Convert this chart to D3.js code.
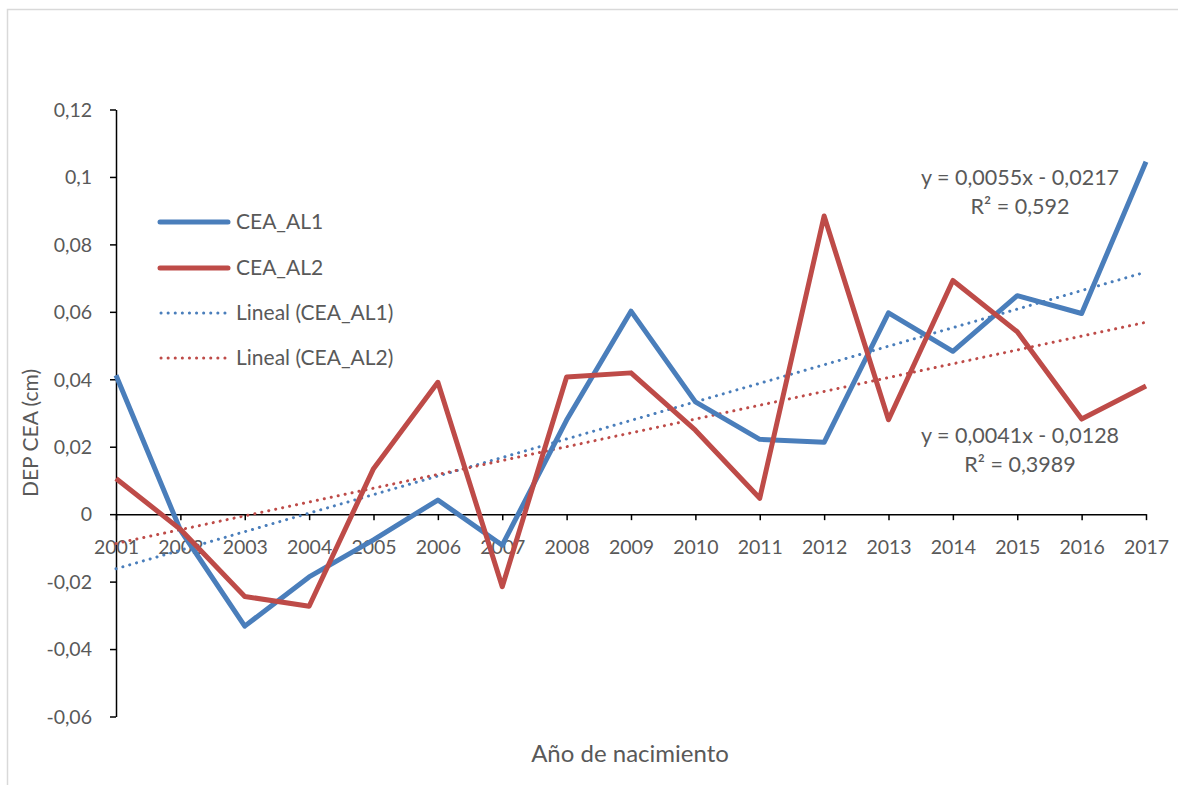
<!DOCTYPE html>
<html>
<head>
<meta charset="utf-8">
<script src="https://cdn.jsdelivr.net/npm/d3@7"></script>
<style>
  body { margin: 0; background: #fff; }
  text { font-family: Lato, "Open Sans", sans-serif; fill: #595959; }
</style>
</head>
<body>
<svg width="1178" height="785"></svg>
<script>
// data
let years = ["2001","2002","2003","2004","2005","2006","2007","2008","2009",
  "2010","2011","2012","2013","2014","2015","2016","2017"];
let cea1 = [0.0412, -0.0047, -0.0332, -0.0186, -0.0076, 0.0042, -0.0092, 0.0279, 0.0602,
  0.0333, 0.0222, 0.0213, 0.0597, 0.0483, 0.0648, 0.0595, 0.1045];
let cea2 = [0.0106, -0.0045, -0.0244, -0.0273, 0.0135, 0.0391, -0.0215, 0.0407, 0.0419,
  0.0249, 0.0047, 0.0884, 0.0280, 0.0693, 0.0541, 0.0282, 0.0380];
let seriesNames = ["CEA_AL1", "CEA_AL2"];
let trendNames = ["Lineal (CEA_AL1)", "Lineal (CEA_AL2)"];
let slopes = [0.0055, 0.0041];
let intercepts = [-0.0217, -0.0128];
let eqLabels = [["y = 0,0055x - 0,0217", "R² = 0,592"], ["y = 0,0041x - 0,0128", "R² = 0,3989"]];
let yTicks = [-0.06, -0.04, -0.02, 0, 0.02, 0.04, 0.06, 0.08, 0.1, 0.12];

let colors = ["#4a7ebb", "#be4b48"];
let svg = d3.select("svg");

// outer chart border
svg.append("rect")
  .attr("x", 7.5).attr("y", 9.5)
  .attr("width", 1200).attr("height", 800)
  .attr("fill", "none").attr("stroke", "#d9d9d9").attr("stroke-width", 1.5);

let plotLeft = 116, plotRight = 1146, plotTop = 109.5, plotBottom = 716.5;

let x = d3.scalePoint().domain(years).range([plotLeft, plotRight]);
let y = d3.scaleLinear().domain([-0.06, 0.12]).range([plotBottom, plotTop]);
let fmt = d => String(+d.toFixed(2)).replace(".", ",");

// y axis
let yAxis = svg.append("g")
  .attr("transform", "translate(" + plotLeft + ",0)")
  .call(d3.axisLeft(y).tickValues(yTicks).tickSize(6).tickSizeOuter(0).tickFormat(fmt));
yAxis.select(".domain").attr("stroke", "#000").attr("stroke-width", 1.5);
yAxis.selectAll(".tick line").attr("stroke", "#000").attr("stroke-width", 1.5);
yAxis.selectAll(".tick text")
  .attr("x", -24).attr("dy", "0.35em")
  .style("font-size", "19.5px").style("font-family", "Lato, sans-serif").attr("fill", "#595959");

// x axis at zero
let xAxis = svg.append("g")
  .attr("transform", "translate(0," + y(0) + ")")
  .call(d3.axisBottom(x).tickSize(6).tickSizeOuter(0));
xAxis.select(".domain").attr("stroke", "#000").attr("stroke-width", 1.5);
xAxis.selectAll(".tick line").attr("stroke", "#000").attr("stroke-width", 1.5);
xAxis.selectAll(".tick text")
  .attr("y", 33).attr("dy", "0.35em")
  .style("font-size", "19.5px").style("font-family", "Lato, sans-serif").attr("fill", "#595959");

// trend lines
let idx = d3.range(1, years.length + 1);
[0, 1].forEach(function (s) {
  let pts = idx.map(function (k) { return [years[k - 1], slopes[s] * k + intercepts[s]]; });
  svg.append("path")
    .datum(pts)
    .attr("fill", "none")
    .attr("stroke", colors[s])
    .attr("stroke-width", 3)
    .attr("stroke-dasharray", "0.1 7")
    .attr("stroke-linecap", "round")
    .attr("d", d3.line().x(d => x(d[0])).y(d => y(d[1])));
});

// data lines
[cea1, cea2].forEach(function (vals, s) {
  svg.append("path")
    .datum(vals)
    .attr("fill", "none")
    .attr("stroke", colors[s])
    .attr("stroke-width", 5)
    .attr("stroke-linejoin", "round")
    .attr("d", d3.line().x((d, i) => x(years[i])).y(d => y(d)));
});

// legend
let legendY = [222, 268, 313, 358];
let legendLabels = seriesNames.concat(trendNames);
legendLabels.forEach(function (name, i) {
  let c = colors[i % 2];
  let ln = svg.append("line")
    .attr("x1", 160).attr("x2", 228)
    .attr("y1", legendY[i]).attr("y2", legendY[i])
    .attr("stroke", c)
    .attr("stroke-linecap", "round");
  if (i < 2) {
    ln.attr("stroke-width", 5);
  } else {
    ln.attr("stroke-width", 3).attr("stroke-dasharray", "0.1 7").attr("x1", 161).attr("x2", 226);
  }
  svg.append("text")
    .attr("x", 236).attr("y", legendY[i]).attr("dy", "0.35em")
    .style("font-size", "21px")
    .text(name);
});

// equation labels
let eqPos = [[1020, 177], [1020, 435]];
eqLabels.forEach(function (lines, s) {
  lines.forEach(function (t, j) {
    svg.append("text")
      .attr("x", eqPos[s][0]).attr("y", eqPos[s][1] + j * 29)
      .attr("dy", "0.35em")
      .attr("text-anchor", "middle")
      .style("font-size", "21.5px")
      .text(t);
  });
});

// axis titles
svg.append("text")
  .attr("transform", "translate(31,433) rotate(-90)")
  .attr("text-anchor", "middle").attr("dy", "0.35em")
  .style("font-size", "21px")
  .text("DEP CEA (cm)");
svg.append("text")
  .attr("x", 630).attr("y", 754).attr("dy", "0.35em")
  .attr("text-anchor", "middle")
  .style("font-size", "24px")
  .text("Año de nacimiento");
</script>
</body>
</html>
